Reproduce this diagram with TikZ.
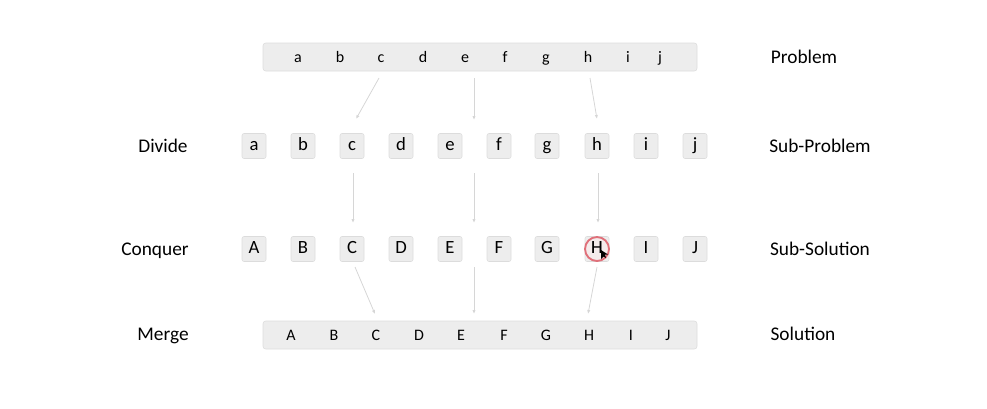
\documentclass[tikz,border=0pt]{standalone}
\usepackage{fontspec}
\setmainfont{Carlito}
\usetikzlibrary{arrows.meta}
\definecolor{boxfill}{HTML}{EDEDED}
\definecolor{boxline}{HTML}{DCDCDC}
\definecolor{arrowc}{HTML}{D6D6D6}
\definecolor{hl}{HTML}{E0707A}
\begin{document}
\begin{tikzpicture}[x=0.75pt,y=-0.75pt,
  bar/.style={draw=boxline,fill=boxfill,rounded corners=2pt,minimum width=434*0.75pt,minimum height=28*0.75pt,inner sep=0pt},
  cell/.style={draw=boxline,fill=boxfill,rounded corners=1.5pt,minimum width=24*0.75pt,minimum height=25*0.75pt,inner sep=0pt,text height=9.5pt,text depth=2.5pt,font=\fontsize{14}{16}\selectfont},
  barletter/.style={inner sep=0pt,anchor=base,font=\fontsize{12}{14}\selectfont},
  lab/.style={inner sep=0pt,text height=9.5pt,text depth=2.5pt,font=\fontsize{14.5}{17}\selectfont},
  conn/.style={draw=arrowc,line width=0.6pt,-{Latex[length=3pt,width=2.5pt]}}]
\useasboundingbox (0,0) rectangle (987,408);
% Problem bar
\node[bar] (pbar) at (480,57) {};
\foreach \l/\x in {a/298,b/340,c/381,d/423,e/465,f/505,g/546,h/588,i/628,j/660}
  \node[barletter] (p\l) at (\x,62.5) {\l};
% Sub-problems
\foreach \l/\x in {a/254,b/303,c/352,d/401,e/450,f/499,g/547,h/597,i/646,j/695}
  \node[cell] (s\l) at (\x,146) {\l};
% Sub-solutions
\foreach \l/\L/\x in {a/A/254,b/B/303,c/C/352,d/D/401,e/E/450,f/F/499,g/G/547,h/H/597,i/I/646,j/J/695}
  \node[cell] (u\l) at (\x,249) {\L};
% highlight
\draw[hl,line width=1.4pt,fill=hl!15,fill opacity=0.6] (uh.center) circle[radius=12];
\node[cell,draw=none,fill=none] (uhtext) at (597,249) {H};
\fill[black] (601,250) -- (601,259) -- (603.5,256.5) -- (606,258) -- (605,254.5) -- (608,254.5) -- cycle;
% Solution bar
\node[bar] (sbar) at (480,335) {};
\foreach \L/\x in {A/291,B/334,C/376,D/419,E/461,F/504,G/546,H/589,I/631,J/668}
  \node[barletter] (q\L) at (\x,340.5) {\L};
% Labels
\node[lab] (lprob) at (804,59) {Problem};
\node[lab] (lsubp) at (820,148) {Sub-Problem};
\node[lab] (lsubs) at (820,251) {Sub-Solution};
\node[lab] (lsol) at (803,336) {Solution};
\node[lab] (ldiv) at (163,148) {Divide};
\node[lab] (lcon) at (155,251) {Conquer};
\node[lab] (lmer) at (163,336) {Merge};
% connector end points
\coordinate (a1s) at (379,78);  \coordinate (a1e) at (356,119);
\coordinate (a2s) at (474,78);  \coordinate (a2e) at (474,120);
\coordinate (a3s) at (590,78);  \coordinate (a3e) at (597,119);
\coordinate (b1s) at (353,173); \coordinate (b1e) at (353,223);
\coordinate (b2s) at (474,173); \coordinate (b2e) at (474,223);
\coordinate (b3s) at (598,173); \coordinate (b3e) at (598,223);
\coordinate (c1s) at (355,267); \coordinate (c1e) at (375,314);
\coordinate (c2s) at (474,267); \coordinate (c2e) at (474,314);
\coordinate (c3s) at (597,267); \coordinate (c3e) at (588,314);
\foreach \n in {a1,a2,a3,b1,b2,b3,c1,c2,c3}
  \draw[conn] (\n s) -- (\n e);
\end{tikzpicture}
\end{document}
